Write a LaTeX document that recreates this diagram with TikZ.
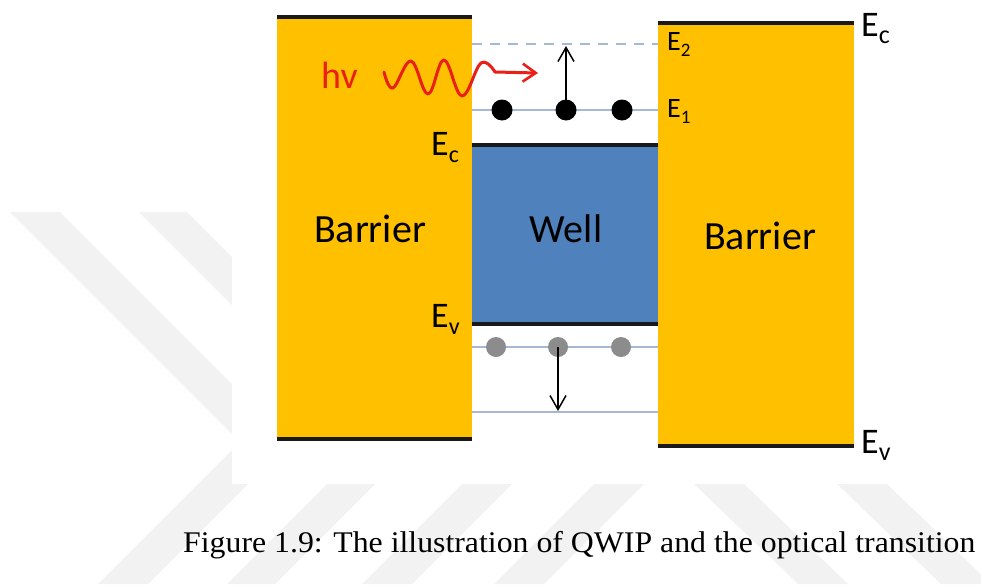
\documentclass[tikz,border=0pt]{standalone}
\usepackage{fontspec}
\setmainfont{Carlito}
\newfontfamily\capfont{Liberation Serif}
\usetikzlibrary{arrows.meta}
\definecolor{barrierC}{RGB}{255,192,0}
\definecolor{wellC}{RGB}{79,129,189}
\definecolor{levelC}{RGB}{165,184,212}
\definecolor{holeC}{RGB}{140,140,140}
\definecolor{photonC}{RGB}{232,32,24}
\definecolor{wmC}{RGB}{242,242,242}
\newcommand{\Elbl}[3]{E\raisebox{-#3pt}{\fontsize{#2}{#2}\selectfont #1}}
\begin{document}
\begin{tikzpicture}[x=1pt,y=-1pt,
  wm/.style={fill=wmC, draw=none},
  band/.style={line width=3.5pt, black!90},
  level/.style={line width=2pt, levelC},
  lbl/.style={inner sep=0pt, font=\fontsize{40}{48}\selectfont},
  biglbl/.style={inner sep=0pt, anchor=base west, font=\fontsize{36}{40}\selectfont},
  smalllbl/.style={inner sep=0pt, anchor=base west, font=\fontsize{28}{32}\selectfont},
  electron/.style={circle, fill=black, minimum size=21pt, inner sep=0pt},
  hole/.style={circle, fill=holeC, minimum size=20pt, inner sep=0pt},
  trans/.style={line width=1.5pt, black, -{Straight Barb[length=14pt,width=16pt,line width=1.5pt]}},
  photon/.style={line width=3pt, photonC, line cap=round, line join=round}
]
\useasboundingbox (0,0) rectangle (981,584);
% watermark
\fill[wm] (10,212) -- (60,212) -- (290,442) -- (148,584) -- (98,584) -- (240,442) -- cycle;
\fill[wm] (139,212) -- (187,212) -- (417,442) -- (275,584) -- (227,584) -- (369,442) -- cycle;
\fill[wm] (462,484) -- (512,484) -- (412,584) -- (362,584) -- cycle;
\fill[wm] (594,484) -- (644,484) -- (544,584) -- (494,584) -- cycle;
\fill[wm] (694,484) -- (744,484) -- (848,584) -- (798,584) -- cycle;
\fill[wm] (837,484) -- (887,484) -- (991,584) -- (941,584) -- cycle;
\fill[white] (232,0) rectangle (981,484);
% barriers and well
\fill[barrierC] (277,17) rectangle (472,439);
\fill[barrierC] (658,23) rectangle (854,446);
\fill[wellC] (472,145) rectangle (658,324);
\draw[band] (277,17) -- (472,17);
\draw[band] (277,439) -- (472,439);
\draw[band] (658,23) -- (854,23);
\draw[band] (658,446) -- (854,446);
\draw[band] (472,145) -- (658,145);
\draw[band] (472,324) -- (658,324);
% levels
\coordinate (e2l) at (472,44);
\coordinate (e2r) at (658,44);
\coordinate (e1l) at (472,110);
\coordinate (e1r) at (658,110);
\coordinate (h1l) at (472,347);
\coordinate (h1r) at (658,347);
\coordinate (h2l) at (472,412);
\coordinate (h2r) at (658,412);
\draw[level, dash pattern=on 10pt off 8pt] (e2l) -- (e2r);
\draw[level] (e1l) -- (e1r);
\draw[level] (h1l) -- (h1r);
\draw[level] (h2l) -- (h2r);
% carriers
\node[electron] (el1) at (502,110) {};
\node[electron] (el2) at (566,110) {};
\node[electron] (el3) at (622,110) {};
\node[hole] (ho1) at (496,347) {};
\node[hole] (ho2) at (558,347) {};
\node[hole] (ho3) at (621,347) {};
% transitions
\coordinate (up) at (566,46);
\coordinate (down) at (558,411);
\draw[trans] (el2.center) -- (up);
\draw[trans] (ho2.center) -- (down);
% photon
\coordinate (ph1) at (495,72);
\coordinate (ph2) at (538,73);
\draw[photon] plot[smooth, tension=0.65] coordinates {(384,72) (393,88) (411,61) (428,94) (444,60) (462,96) (481,63) (495,72)};
\draw[photon, -{Straight Barb[length=13pt,width=18pt,line width=2.6pt]}] (ph1) -- (ph2);
\node[inner sep=0pt, anchor=base west, text=photonC, font=\fontsize{38}{40}\selectfont] (hv) at (321,88) {hv};
% labels
\node[lbl] (bl) at (370,229) {Barrier};
\node[lbl] (wl) at (566,229) {Well};
\node[lbl] (br) at (760,236) {Barrier};
\node[biglbl] (ecl) at (431,155) {\Elbl{c}{24}{7}};
\node[biglbl] (evl) at (431,327) {\Elbl{v}{24}{7}};
\node[biglbl] (ecr) at (861,36) {\Elbl{c}{26}{7}};
\node[biglbl] (evr) at (861,453) {\Elbl{v}{26}{7}};
\node[smalllbl] (e2) at (667,50) {\Elbl{2}{19}{6}};
\node[smalllbl] (e1) at (667,117) {\Elbl{1}{19}{6}};
% caption
\node[inner sep=0pt, anchor=base west, font=\capfont\fontsize{30}{34}\selectfont] (cap) at (183,552) {\scalebox{1.06}[1]{Figure 1.9: The illustration of QWIP and the optical transition}};
\end{tikzpicture}
\end{document}
